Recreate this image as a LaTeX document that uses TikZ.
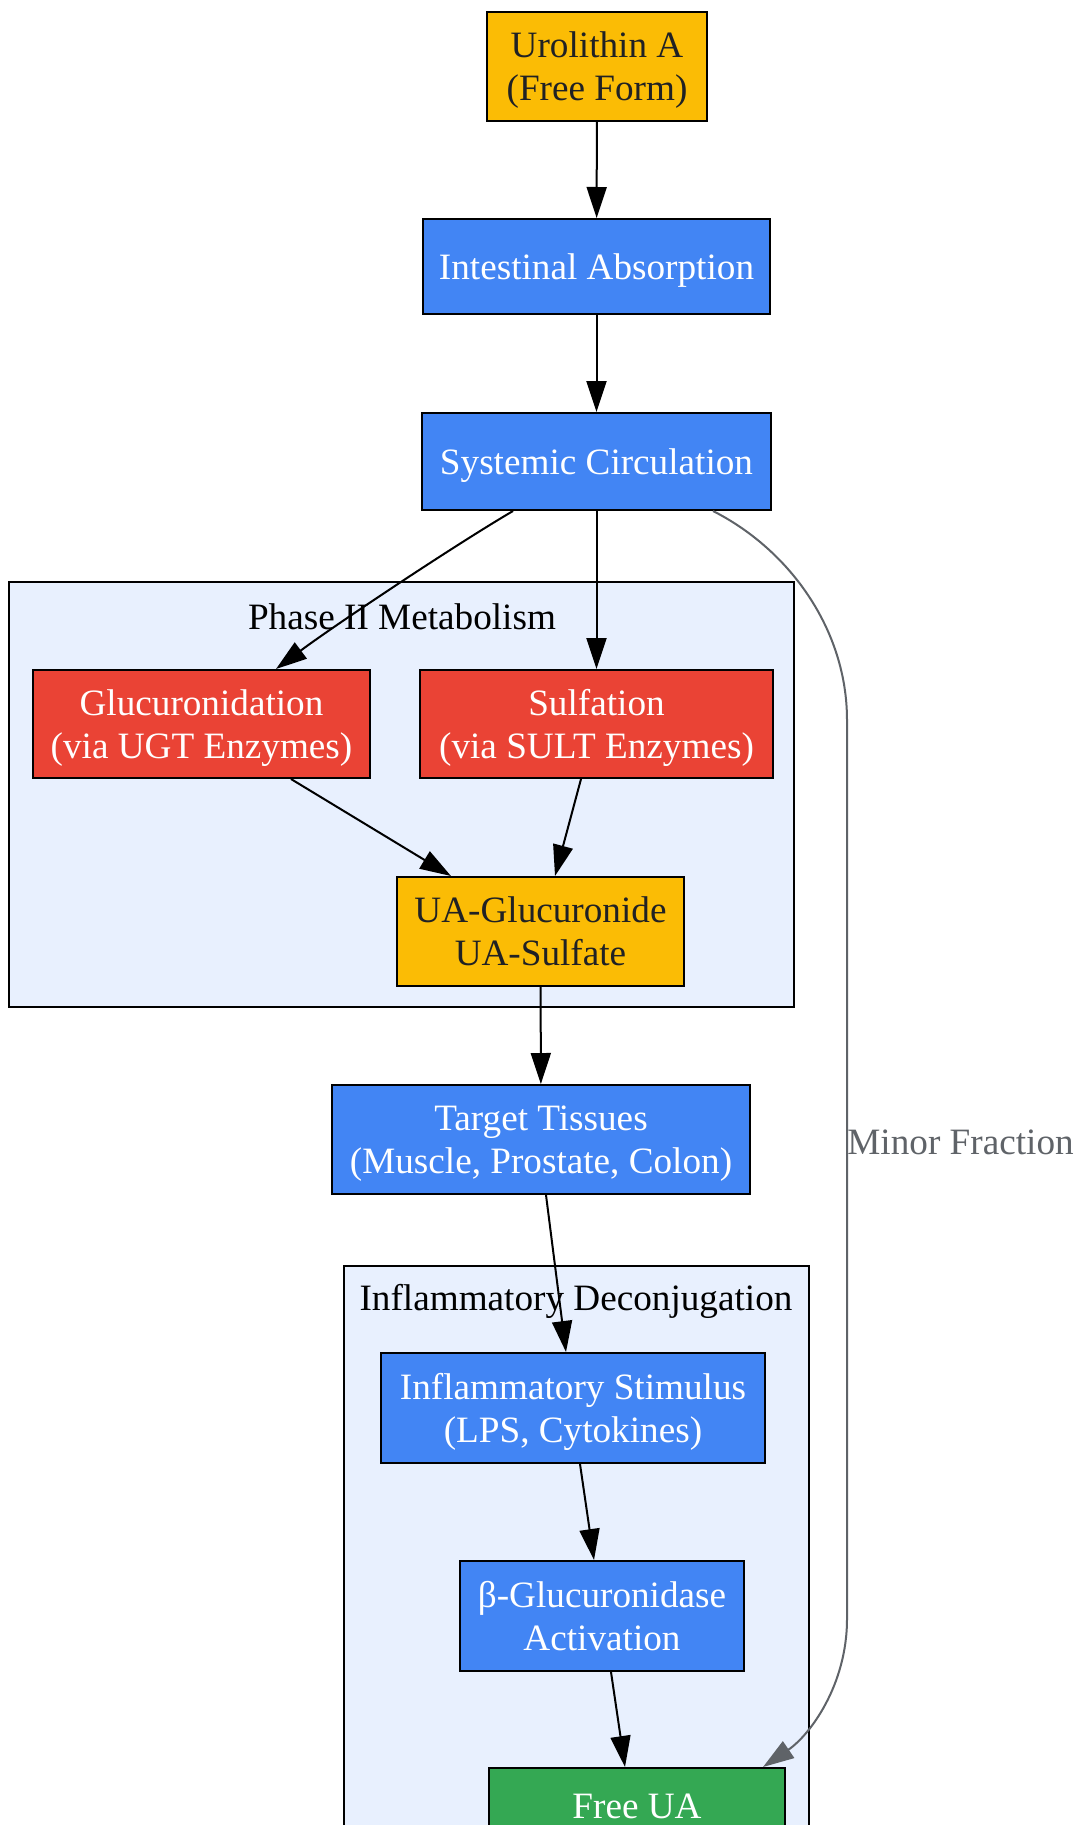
\documentclass[tikz,border=0pt]{standalone}
\usepackage{fontspec}
\setmainfont{Liberation Serif}
\usetikzlibrary{arrows.meta}
\definecolor{uayellow}{HTML}{FBBC05}
\definecolor{uablue}{HTML}{4285F4}
\definecolor{uared}{HTML}{EA4335}
\definecolor{uagreen}{HTML}{34A853}
\definecolor{uapale}{HTML}{E8F0FE}
\definecolor{uadark}{HTML}{202124}
\definecolor{uagrey}{HTML}{5F6368}
\begin{document}
\begin{tikzpicture}[x=0.5pt, y=-0.5pt,
        font=\fontsize{18.6}{21.5}\selectfont,
        box/.style={draw=black, line width=1pt, inner sep=0pt, align=center, text depth=-2pt},
        compound/.style={box, fill=uayellow, text=uadark},
        process/.style={box, fill=uablue, text=white},
        enzyme/.style={box, fill=uared, text=white},
        product/.style={box, fill=uagreen, text=white},
        cluster/.style={draw=black, line width=1pt, fill=uapale, inner sep=0pt},
        link/.style={line width=1pt, -{Triangle[length=15.5pt, width=10pt]}},
        minor/.style={link, draw=uagrey}]
    \useasboundingbox (0,0) rectangle (1076,1825);
    \clip (0,0) rectangle (1076,1825);
    \fill[white] (0,0) rectangle (1076,1825);
    % clusters
    \node[cluster, minimum width=392.5pt, minimum height=212.5pt] (phase) at (401.5,794.5) {};
    \node (phaselbl) at (402,617) {Phase II Metabolism};
    \node[cluster, minimum width=232.5pt, minimum height=317pt] (inflam) at (576.5,1583) {};
    \node (inflamlbl) at (576,1301) {Inflammatory Deconjugation};
    % nodes
    \node[compound, minimum width=110pt, minimum height=54.5pt] (uro) at (597,66.5) {Urolithin A\\(Free Form)};
    \node[process, minimum width=173.5pt, minimum height=47.5pt] (absorb) at (596.5,266.5) {Intestinal Absorption};
    \node[process, minimum width=174.5pt, minimum height=48.5pt] (sys) at (596.5,461.5) {Systemic Circulation};
    \node[enzyme, minimum width=168.5pt, minimum height=54pt] (gluc) at (201.5,724) {Glucuronidation\\(via UGT Enzymes)};
    \node[enzyme, minimum width=176.5pt, minimum height=54pt] (sulf) at (596.5,724) {Sulfation\\(via SULT Enzymes)};
    \node[compound, minimum width=143.5pt, minimum height=54.5pt] (conj) at (540.5,931.5) {UA-Glucuronide\\UA-Sulfate};
    \node[process, minimum width=209pt, minimum height=54.5pt] (tissue) at (541,1139.5) {Target Tissues\\(Muscle, Prostate, Colon)};
    \node[process, minimum width=192pt, minimum height=55pt] (stim) at (573,1408) {Inflammatory Stimulus\\(LPS, Cytokines)};
    \node[process, minimum width=142pt, minimum height=55pt] (beta) at (602,1616) {β-Glucuronidase\\Activation};
    \node[product, minimum width=148pt, minimum height=38pt] (free) at (637,1806) {Free UA};
    % edges
    \draw[link] (uro) -- (absorb);
    \draw[link] (absorb) -- (sys);
    \draw[link] ([xshift=-41.75pt]sys.south) .. controls (455,545) and (335,625) .. ([xshift=37.25pt]gluc.north);
    \draw[link] (sys) -- (sulf);
    \draw[link] ([xshift=44.75pt]gluc.south) -- ([xshift=-44.75pt]conj.north);
    \draw[link] ([xshift=-7.75pt]sulf.south) -- ([xshift=7.25pt]conj.north);
    \draw[link] (conj) -- (tissue);
    \draw[link] ([xshift=2.5pt]tissue.south) -- ([xshift=-3.5pt]stim.north);
    \draw[link] ([xshift=3.5pt]stim.south) -- ([xshift=-4pt]beta.north);
    \draw[link] ([xshift=4.5pt]beta.south) -- ([xshift=-6pt]free.north);
    \coordinate (bend1) at (847,720);
    \coordinate (bend2) at (847,1619);
    \draw[minor] ([xshift=58.25pt]sys.south) .. controls (790,550) and (847,630) .. (bend1)
        -- (bend2) .. controls (847,1685) and (810,1735) .. ([xshift=63pt]free.north);
    \node[anchor=west, inner sep=0pt, text=uagrey] (minorlbl) at (847,1142) {Minor Fraction};
\end{tikzpicture}
\end{document}
